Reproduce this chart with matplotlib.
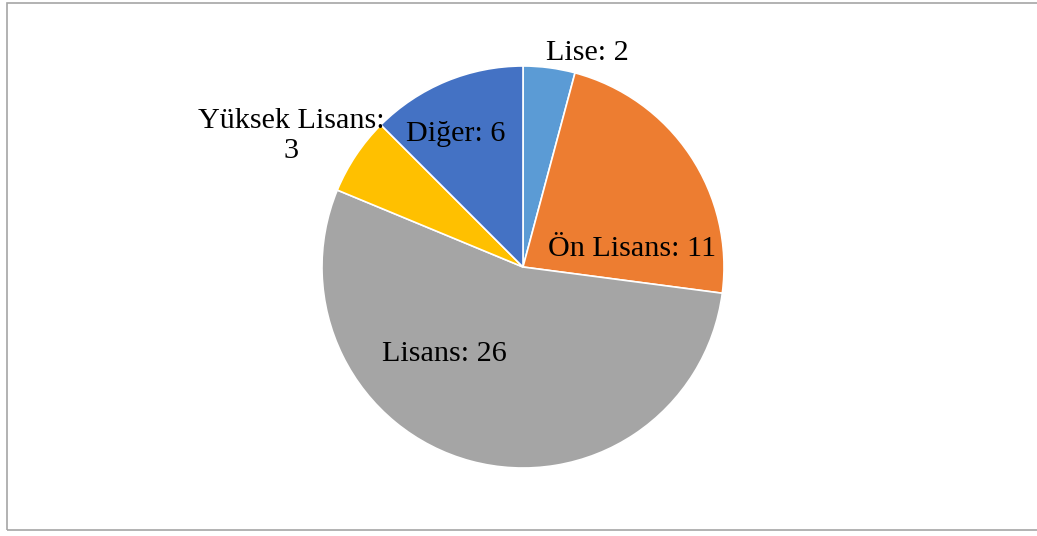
import matplotlib.pyplot as plt
from matplotlib.patches import Rectangle

categories = ["Lise", "Ön Lisans", "Lisans", "Yüksek Lisans", "Diğer"]
values = [2, 11, 26, 3, 6]
colors = ["#5b9bd5", "#ed7d31", "#a5a5a5", "#ffc000", "#4472c4"]

label_texts = ["Lise: 2", "Ön Lisans: 11", "Lisans: 26", "Yüksek Lisans:\n3", "Diğer: 6"]
# label positions in units of pie radius
label_pos = [(0.318, 1.065), (0.542, 0.089), (-0.393, -0.433), (-1.154, 0.652), (-0.333, 0.662)]

plt.rcParams["font.family"] = ["Liberation Serif", "DejaVu Serif"]

fig = plt.figure(figsize=(10.37, 5.36), dpi=100)

# chart frame
fig.patches.append(Rectangle((7 / 1037, 6 / 536), 1.0, 527 / 536, transform=fig.transFigure,
                             fill=False, edgecolor="#a6a6a6", linewidth=1.2))

r_px = 201
ax = fig.add_axes([(523 - 260) / 1037, (269 - 260) / 536, 520 / 1037, 520 / 536])

ax.pie(values, colors=colors, startangle=90, counterclock=False, radius=1,
       wedgeprops=dict(edgecolor="white", linewidth=1.2))

lim = 260 / r_px
ax.set_xlim(-lim, lim)
ax.set_ylim(-lim, lim)
ax.set_aspect("equal")
ax.axis("off")

for txt, (x, y) in zip(label_texts, label_pos):
    ax.text(x, y, txt, ha="center", va="center", fontsize=21.7, color="black",
            linespacing=1.2, multialignment="center")

plt.savefig("out.png", dpi=100)
